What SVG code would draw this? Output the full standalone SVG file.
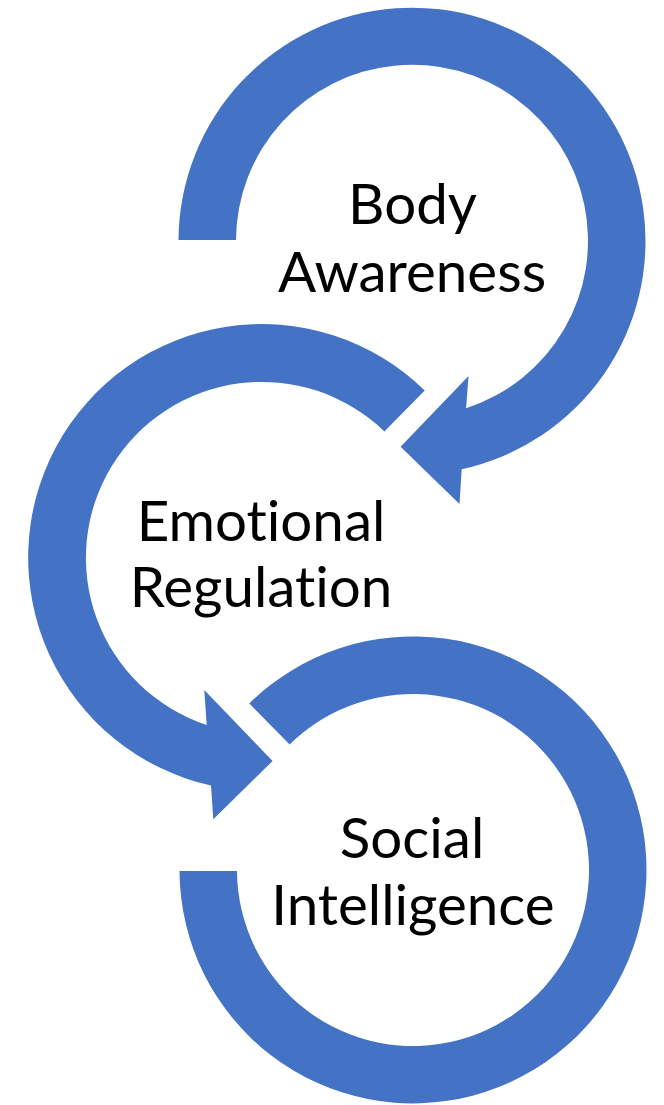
<svg xmlns="http://www.w3.org/2000/svg" width="664" height="1105" viewBox="0 0 664 1105">
  <style>
    .ring { fill: #4472C4; stroke: none; }
    .label { font-family: Lato, "Open Sans", "Liberation Sans", sans-serif; font-size: 56.5px; fill: #000000; text-anchor: middle; font-variant-ligatures: none; }
  </style>
  <rect width="664" height="1105" fill="#FFFFFF"/>

  <!-- circular arrows (each ring is the connector into the next step) -->
  <g id="connectors">
    <!-- ring 1: starts flat on the left, sweeps clockwise, head points down-left -->
    <path id="arrow-body" class="ring" d="M 178.5 240 A 233.5 233.5 0 1 1 461.7 469.3 L 459.5 504 L 400.6 446.7 L 468.5 376 L 466.1 408.2 A 176 176 0 1 0 236 240 Z"/>
    <!-- ring 2: tail upper right, sweeps counter-clockwise, head points down-right -->
    <path id="arrow-emotional" class="ring" d="M 424.7 390.4 A 233.5 233.5 0 1 0 211 785.5 L 213.3 819.3 L 272.6 761 L 204.3 690 L 206.7 725 A 176 176 0 1 1 384.4 431.5 Z"/>
    <!-- ring 3: tail upper left, sweeps clockwise, ends flat on the left -->
    <path id="arrow-social" class="ring" d="M 249.3 703.4 A 233.5 233.5 0 1 1 179.5 871 L 237 871 A 176 176 0 1 0 289.6 744.5 Z"/>
  </g>

  <g id="node-body-awareness">
    <text class="label" x="412.5" y="224">Body</text>
    <text class="label" x="412" y="291.7">Awareness</text>
  </g>
  <g id="node-emotional-regulation">
    <text class="label" x="261" y="540.7">Emotional</text>
    <text class="label" x="261" y="607.3">Regulation</text>
  </g>
  <g id="node-social-intelligence">
    <text class="label" x="412" y="858.3">Social</text>
    <text class="label" x="413" y="925">Intelligence</text>
  </g>
</svg>
